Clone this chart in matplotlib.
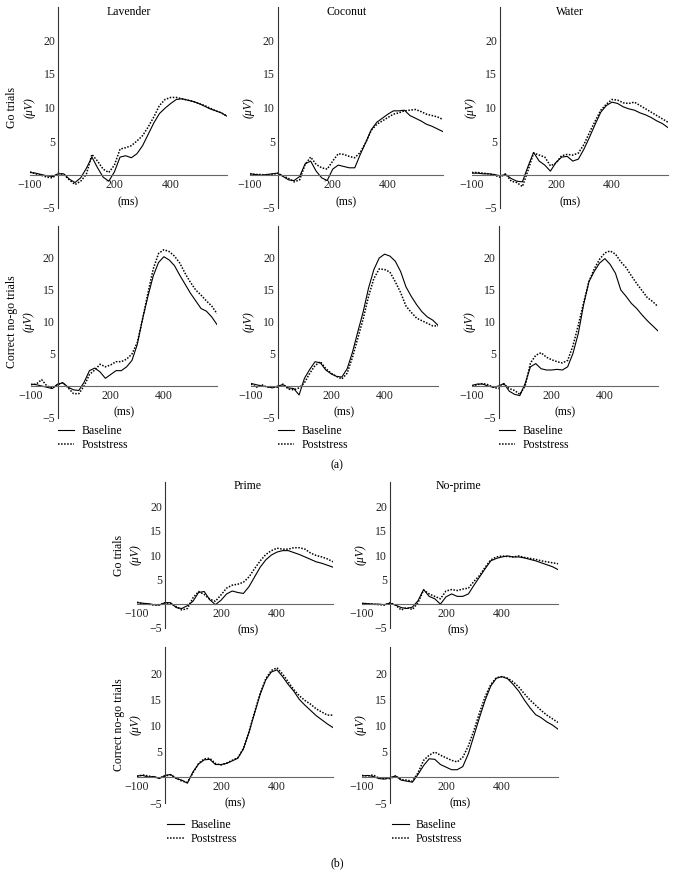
import matplotlib
matplotlib.use('Agg')
import matplotlib.pyplot as plt

plt.rcParams['font.family'] = ['Liberation Serif', 'DejaVu Serif']
plt.rcParams['font.size'] = 8.5

W, H = 675, 874
FS = 8.5

# sample times (ms)
times = [-100, -80, -60, -40, -20, 0, 20, 40, 60, 80, 100, 120, 140, 160, 180, 200,
         220, 240, 260, 280, 300, 320, 340, 360, 380, 400, 420, 440, 460, 480, 500,
         520, 540, 560, 580, 600]

# (a) Go trials
lav_go_base = [0.3, 0.2, 0.0, -0.2, -0.3, 0.1, 0.1, -0.7, -1.2, -0.5, 0.9, 2.6, 1.0, -0.4, -1.0, 0.4,
               2.6, 2.8, 2.5, 3.1, 4.3, 6.0, 7.7, 9.1, 9.9, 10.6, 11.2, 11.3, 11.1, 10.9, 10.6,
               10.2, 9.8, 9.5, 9.2, 8.7]
lav_go_post = [0.4, 0.1, -0.1, -0.4, -0.5, 0.2, 0.0, -0.8, -1.5, -1.0, 0.0, 3.0, 2.0, 0.8, 0.3, 1.4,
               3.8, 4.0, 4.3, 5.0, 5.8, 7.1, 8.6, 10.3, 11.2, 11.5, 11.5, 11.3, 11.1, 10.9, 10.6,
               10.3, 9.9, 9.5, 9.2, 8.7]
coc_go_base = [0.1, 0.0, -0.1, 0.0, 0.1, 0.2, -0.3, -0.8, -0.9, -0.3, 1.6, 2.0, 0.5, -0.5, -0.9, 0.8,
               1.4, 1.2, 1.0, 1.0, 3.0, 4.8, 6.7, 7.8, 8.4, 9.0, 9.5, 9.5, 9.6, 8.8, 8.4,
               8.0, 7.5, 7.2, 6.8, 6.4]
coc_go_post = [0.1, 0.0, 0.0, -0.1, 0.0, 0.2, -0.2, -0.6, -1.1, -0.8, 1.5, 2.6, 1.5, 1.0, 0.8, 2.0,
               3.1, 3.0, 2.7, 2.5, 3.3, 4.8, 6.6, 7.5, 8.0, 8.5, 9.0, 9.2, 9.5, 9.6, 9.7,
               9.4, 9.0, 8.8, 8.6, 8.2]
wat_go_base = [0.2, 0.2, 0.1, 0.1, 0.0, -0.2, 0.0, -0.6, -1.0, -1.1, 1.2, 3.3, 2.0, 1.4, 0.5, 1.8,
               2.6, 2.7, 2.0, 2.3, 3.8, 5.6, 7.5, 9.3, 10.3, 10.8, 10.6, 10.1, 9.8, 9.6, 9.2,
               8.9, 8.5, 8.0, 7.6, 7.0]
wat_go_post = [0.3, 0.3, 0.2, 0.1, -0.1, -0.4, 0.1, -1.0, -1.2, -1.8, 0.6, 3.2, 2.9, 2.6, 1.3, 1.7,
               2.8, 3.0, 2.9, 3.2, 4.5, 6.3, 8.0, 9.6, 10.5, 11.2, 11.1, 10.7, 10.6, 10.8, 10.3,
               9.8, 9.3, 8.8, 8.3, 7.8]

# (a) Correct no-go trials
lav_ng_base = [0.3, 0.2, 0.0, -0.2, -0.4, 0.3, 0.5, -0.2, -0.6, -0.7, 0.6, 2.4, 2.8, 2.2, 1.2, 1.8,
               2.4, 2.4, 3.0, 4.0, 6.5, 10.5, 14.0, 17.2, 19.3, 20.2, 19.7, 18.8, 17.3, 15.9, 14.5,
               13.3, 12.1, 11.7, 10.8, 9.6]
lav_ng_post = [0.2, 0.3, 1.0, 0.0, -0.3, 0.2, 0.5, -0.3, -1.2, -1.2, 0.0, 1.8, 2.5, 3.4, 3.0, 3.3,
               3.8, 3.8, 4.2, 5.0, 6.8, 10.5, 14.5, 18.3, 20.7, 21.3, 21.0, 20.3, 19.2, 17.6, 16.2,
               15.0, 14.2, 13.3, 12.5, 11.3]
coc_ng_base = [0.4, 0.2, 0.0, -0.1, -0.3, 0.0, 0.2, -0.3, -0.4, -1.4, 1.2, 2.6, 3.8, 3.6, 2.5, 1.9,
               1.5, 1.4, 2.7, 5.3, 8.5, 11.6, 15.3, 18.2, 20.0, 20.6, 20.3, 19.5, 17.9, 15.5, 14.0,
               12.7, 11.6, 10.8, 10.3, 9.5]
coc_ng_post = [0.3, -0.2, 0.2, -0.2, -0.1, -0.2, 0.3, -0.5, -0.6, -0.3, 0.5, 2.0, 3.2, 3.8, 2.7, 2.0,
               1.5, 1.1, 2.0, 4.5, 7.5, 10.5, 14.0, 16.8, 18.3, 18.2, 17.8, 16.3, 14.6, 12.5, 11.5,
               10.6, 10.2, 9.8, 9.4, 9.4]
wat_ng_base = [0.1, 0.3, 0.3, 0.0, -0.2, 0.0, 0.4, -0.8, -1.3, -1.5, 0.4, 3.0, 3.5, 2.7, 2.5, 2.5,
               2.6, 2.5, 3.0, 5.1, 8.2, 12.7, 16.3, 17.9, 19.2, 19.9, 19.0, 17.6, 15.0, 14.0, 12.9,
               12.1, 11.1, 10.2, 9.4, 8.6]
wat_ng_post = [0.0, 0.2, 0.4, 0.2, -0.2, -0.4, 0.3, -0.4, -0.7, -1.3, 0.0, 3.6, 4.8, 5.2, 4.5, 4.1,
               3.8, 3.6, 4.0, 6.3, 9.5, 13.0, 16.3, 18.3, 19.8, 20.8, 21.1, 20.6, 19.4, 18.5, 17.2,
               16.0, 14.9, 13.8, 13.2, 12.4]

# (b) Go trials
pri_go_base = [0.2, 0.1, 0.0, -0.2, -0.3, 0.2, 0.2, -0.8, -1.0, -0.4, 0.5, 2.3, 2.5, 0.8, -0.2, 0.7,
               2.0, 2.6, 2.3, 2.1, 3.5, 5.5, 7.5, 9.0, 10.0, 10.6, 10.9, 10.9, 10.5, 10.1, 9.6,
               9.1, 8.6, 8.3, 7.9, 7.5]
pri_go_post = [0.3, 0.0, -0.1, -0.3, -0.2, 0.2, 0.0, -0.6, -1.3, -1.0, 1.2, 2.5, 1.9, 0.9, 0.5, 1.8,
               3.2, 3.8, 4.0, 4.4, 5.5, 7.2, 8.8, 10.1, 10.9, 11.4, 11.2, 11.2, 11.5, 11.5, 11.2,
               10.4, 9.9, 9.6, 9.2, 8.6]
nop_go_base = [0.1, 0.0, -0.1, -0.1, -0.2, 0.1, -0.3, -0.8, -1.0, -0.7, 0.6, 2.9, 1.5, 1.0, -0.1, 1.4,
               2.0, 1.5, 1.5, 2.0, 3.8, 5.5, 7.2, 8.8, 9.3, 9.6, 9.8, 9.6, 9.6, 9.4, 9.1,
               8.8, 8.4, 8.0, 7.6, 7.0]
nop_go_post = [0.0, 0.0, -0.1, -0.2, -0.3, 0.2, -0.3, -1.3, -0.8, -1.2, 0.2, 2.8, 2.0, 1.5, 1.0, 2.6,
               2.9, 2.7, 3.0, 3.2, 4.6, 5.8, 7.5, 9.0, 9.6, 9.8, 9.7, 9.6, 9.8, 9.5, 9.3,
               9.1, 8.8, 8.6, 8.4, 8.2]

# (b) Correct no-go trials
pri_ng_base = [0.2, 0.3, 0.0, 0.1, -0.3, 0.3, 0.5, -0.3, -0.6, -1.2, 1.0, 2.5, 3.3, 3.4, 2.4, 2.4,
               2.6, 3.1, 3.6, 5.4, 8.6, 12.3, 15.9, 18.7, 20.2, 20.6, 19.3, 17.8, 16.5, 14.9, 13.8,
               12.8, 11.8, 11.0, 10.2, 9.5]
pri_ng_post = [0.1, 0.4, 0.2, 0.0, -0.2, 0.2, 0.4, -0.2, -0.8, -1.0, 0.8, 2.6, 3.5, 3.6, 2.6, 2.3,
               2.7, 3.2, 3.7, 5.5, 8.7, 12.5, 16.1, 18.9, 20.5, 21.0, 19.8, 18.3, 16.8, 15.6, 14.7,
               14.0, 13.1, 12.5, 11.9, 11.9]
nop_ng_base = [0.2, 0.3, 0.1, -0.3, -0.4, -0.1, 0.2, -0.6, -0.8, -1.0, 0.5, 2.2, 3.5, 3.4, 2.4, 1.9,
               1.4, 1.4, 2.0, 4.5, 8.0, 11.5, 14.8, 17.5, 19.0, 19.3, 18.9, 17.8, 16.5, 14.8, 13.3,
               12.0, 11.4, 10.6, 10.0, 9.2]
nop_ng_post = [0.3, 0.2, 0.4, -0.2, -0.3, -0.3, 0.2, -0.5, -0.6, -0.8, 0.8, 3.2, 4.2, 4.8, 4.2, 3.7,
               3.2, 2.9, 3.8, 6.0, 9.0, 12.4, 15.5, 17.8, 19.1, 19.3, 19.0, 18.3, 17.3, 16.0, 14.8,
               13.8, 12.8, 11.9, 11.2, 10.5]

yticks = [-5, 5, 10, 15, 20]
xticks = [-100, 200, 400]

fig = plt.figure(figsize=(W / 100, H / 100), dpi=100)


def panel(x0, x1, ytop, ybot, base, post, title=None, tx=0.5, msy=0.03, msx=0.5):
    ax = fig.add_axes([x0 / W, 1 - ybot / H, (x1 - x0) / W, (ybot - ytop) / H])
    ax.plot(times, base, color='black', lw=0.8, ls='-', label='Baseline')
    ax.plot(times, post, color='black', lw=1.1, ls=(0, (1, 1)), label='Poststress')
    ax.set_xlim(-100, 600)
    ax.set_ylim(-5, 25)
    ax.set_xticks(xticks)
    ax.set_yticks(yticks)
    for s in ['top', 'right']:
        ax.spines[s].set_visible(False)
    ax.spines['left'].set_position(('data', 0))
    ax.spines['bottom'].set_position(('data', 0))
    ax.spines['left'].set_color('#333333')
    ax.spines['bottom'].set_color('#666666')
    ax.spines['left'].set_linewidth(0.8)
    ax.spines['bottom'].set_linewidth(0.8)
    ax.tick_params(axis='both', length=0, labelsize=FS, colors='#222222')
    ax.tick_params(axis='y', pad=2)
    ax.tick_params(axis='x', pad=3)
    ax.patch.set_alpha(0)
    if title:
        ax.text(tx, 0.975, title, transform=ax.transAxes, ha='center', va='center', fontsize=FS)
    ax.text(msx, msy, '(ms)', transform=ax.transAxes, ha='center', va='center', fontsize=FS)
    return ax


def ylab(x0, x1, ytop, ybot, row=None, uv_off=-29, row_off=-46):
    yax = x0 + (x1 - x0) / 7
    yc = ybot - (ybot - ytop) * 0.5
    fig.text((yax + uv_off) / W, 1 - yc / H, '(μV)', rotation=90, ha='center', va='center',
             fontsize=FS, style='italic')
    if row:
        fig.text((yax + row_off) / W, 1 - yc / H, row, rotation=90, ha='center', va='center',
                 fontsize=FS)


def legend(ax, xpx, ypx):
    h, l = ax.get_legend_handles_labels()
    fig.legend(h, l, loc='upper left', bbox_to_anchor=(xpx / W, 1 - ypx / H), frameon=False,
               fontsize=FS, handlelength=1.4, handletextpad=0.6, labelspacing=0.15,
               borderpad=0, borderaxespad=0)


# (a)
cols_a_go = [(30, 227), (250, 443), (472, 668)]
cols_a_ng = [(31, 217), (251, 438), (472, 658)]
titles_a = ['Lavender', 'Coconut', 'Water']
go_a = [(lav_go_base, lav_go_post), (coc_go_base, coc_go_post), (wat_go_base, wat_go_post)]
ng_a = [(lav_ng_base, lav_ng_post), (coc_ng_base, coc_ng_post), (wat_ng_base, wat_ng_post)]

for i in range(3):
    x0, x1 = cols_a_go[i]
    panel(x0, x1, 7, 208, go_a[i][0], go_a[i][1], title=titles_a[i])
    ylab(x0, x1, 7, 208, row='Go trials' if i == 0 else None)
    x0, x1 = cols_a_ng[i]
    ax = panel(x0, x1, 226, 418, ng_a[i][0], ng_a[i][1])
    ylab(x0, x1, 226, 418, row='Correct no-go trials' if i == 0 else None)
    legend(ax, x0 + (x1 - x0) / 7, 425)

fig.text(337 / W, 1 - 465 / H, '(a)', ha='center', va='center', fontsize=FS)

# (b)
cols_b = [(137, 333), (362, 558)]
titles_b = ['Prime', 'No-prime']
title_x_b = [0.565, 0.49]
go_b = [(pri_go_base, pri_go_post), (nop_go_base, nop_go_post)]
ng_b = [(pri_ng_base, pri_ng_post), (nop_ng_base, nop_ng_post)]

for i in range(2):
    x0, x1 = cols_b[i]
    panel(x0, x1, 482, 628, go_b[i][0], go_b[i][1], title=titles_b[i], tx=title_x_b[i],
          msy=-0.015, msx=title_x_b[i])
    ylab(x0, x1, 482, 628, row='Go trials' if i == 0 else None)
    ax = panel(x0, x1, 647, 803, ng_b[i][0], ng_b[i][1], msy=0.0)
    ylab(x0, x1, 647, 803, row='Correct no-go trials' if i == 0 else None)
    legend(ax, x0 + (x1 - x0) / 7 + 2, 819)

fig.text(337 / W, 1 - 863 / H, '(b)', ha='center', va='center', fontsize=FS)

fig.savefig('out.png', dpi=100, facecolor='white')
